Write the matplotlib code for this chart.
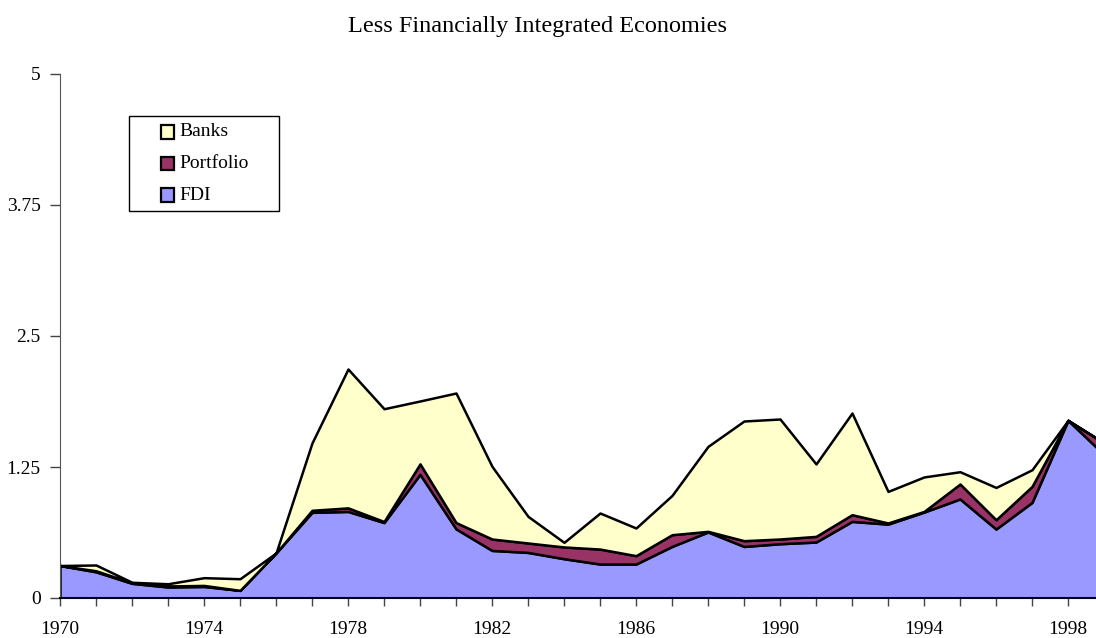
import matplotlib
matplotlib.use("Agg")
import matplotlib.pyplot as plt
from matplotlib.patches import Rectangle

plt.rcParams['font.family'] = ['Liberation Serif', 'DejaVu Serif']

years = list(range(1970, 2000))
fdi = [0.31, 0.25, 0.14, 0.105, 0.11, 0.073, 0.43, 0.817, 0.826, 0.72,
       1.18, 0.66, 0.454, 0.435, 0.375, 0.324, 0.324, 0.492, 0.63, 0.492,
       0.518, 0.534, 0.731, 0.705, 0.82, 0.945, 0.658, 0.912, 1.695, 1.37]
portfolio = [0.0, 0.01, 0.005, 0.01, 0.01, 0.0, 0.0, 0.02, 0.034, 0.01,
             0.10, 0.06, 0.109, 0.09, 0.112, 0.143, 0.08, 0.112, 0.006, 0.055,
             0.045, 0.054, 0.064, 0.011, 0.006, 0.143, 0.089, 0.153, 0.0, 0.11]
banks = [0.0, 0.055, 0.005, 0.021, 0.074, 0.111, 0.0, 0.643, 1.325, 1.076,
         0.60, 1.236, 0.693, 0.254, 0.044, 0.344, 0.264, 0.375, 0.811, 1.142,
         1.145, 0.691, 0.97, 0.301, 0.329, 0.117, 0.308, 0.159, 0.0, 0.0]
ytick_vals = [0, 1.25, 2.5, 3.75, 5]
ytick_labels = ['0', '1.25', '2.5', '3.75', '5']

colors = ['#9999FF', '#993366', '#FFFFCC']
legend_labels = ['Banks', 'Portfolio', 'FDI']
legend_colors = [colors[2], colors[1], colors[0]]

W, H = 1096, 638
fig = plt.figure(figsize=(W/100, H/100), dpi=100)
ax = fig.add_axes([60/W, 40/H, (1104-60)/W, 524/H])

ax.stackplot(years, fdi, portfolio, banks, colors=colors,
             edgecolor='black', linewidth=1.8)

ax.set_xlim(1970, 1999)
ax.set_ylim(0, 5)
ax.set_yticks(ytick_vals)
ax.set_yticklabels(ytick_labels)
ax.set_xticks(years)
ax.set_xticklabels([str(y) if (y - 1970) % 4 == 0 else '' for y in years])
ax.tick_params(axis='both', direction='out', width=1, labelsize=14,
               color='#444444')
ax.tick_params(axis='x', length=6, pad=10.5)
ax.tick_params(axis='y', length=7, pad=7)
for s in ['top', 'right']:
    ax.spines[s].set_visible(False)
ax.spines['left'].set_color('#555555')
ax.spines['bottom'].set_color('black')
ax.spines['bottom'].set_linewidth(1.5)

fig.text(537/W, 1 - 32/H, 'Less Financially Integrated Economies',
         ha='center', va='baseline', fontsize=17.5)

# legend box
fig.patches.append(Rectangle((129/W, 1 - 211/H), 150/W, 95/H,
                             transform=fig.transFigure, facecolor='white',
                             edgecolor='black', linewidth=1, zorder=5))
for i, (lab, col) in enumerate(zip(legend_labels, legend_colors)):
    yc = [132, 163.5, 195][i]
    fig.patches.append(Rectangle((161/W, 1 - (yc + 6.5)/H), 13/W, 13/H,
                                 transform=fig.transFigure, facecolor=col,
                                 edgecolor='black', linewidth=1.6, zorder=6))
    fig.text(179/W, 1 - yc/H, lab, ha='left', va='center', fontsize=14,
             zorder=7)

fig.savefig('out.png', dpi=100)
